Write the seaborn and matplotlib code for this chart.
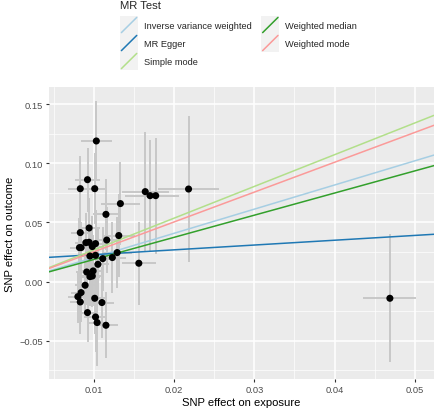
import numpy as np
import pandas as pd
import matplotlib
matplotlib.use("Agg")
import matplotlib.pyplot as plt
import seaborn as sns
from matplotlib.lines import Line2D
from matplotlib.patches import Rectangle
from matplotlib.legend_handler import HandlerBase

# efeitos dos SNPs
beta_exp = [0.0103, 0.0083, 0.0092, 0.0101, 0.0164, 0.0170, 0.0177, 0.0218, 0.0133, 0.0115,
            0.0094, 0.0083, 0.0131, 0.0116, 0.0090, 0.0094, 0.0102, 0.0098, 0.0082, 0.0084,
            0.0129, 0.0095, 0.0102, 0.0123, 0.0111, 0.0105, 0.0156, 0.0091, 0.0099, 0.0095,
            0.0098, 0.0089, 0.0084, 0.0080, 0.0083, 0.0101, 0.0110, 0.0092, 0.0102, 0.0104,
            0.0115, 0.0469]
beta_out = [0.1188, 0.0785, 0.0861, 0.0785, 0.0760, 0.0726, 0.0726, 0.0782, 0.0659, 0.0568,
            0.0453, 0.0414, 0.0389, 0.0351, 0.0329, 0.0332, 0.0321, 0.0296, 0.0287, 0.0287,
            0.0245, 0.0216, 0.0222, 0.0203, 0.0194, 0.0146, 0.0155, 0.0081, 0.0090, 0.0042,
            0.0047, -0.0031, -0.0093, -0.0127, -0.0172, -0.0141, -0.0177, -0.0262, -0.0299, -0.0346,
            -0.0369, -0.0141]
se_exp = [0.0019, 0.0015, 0.0015, 0.0015, 0.0029, 0.0031, 0.0029, 0.0038, 0.0024, 0.0016,
          0.0013, 0.0012, 0.0020, 0.0014, 0.0013, 0.0012, 0.0014, 0.0013, 0.0012, 0.0012,
          0.0018, 0.0013, 0.0014, 0.0017, 0.0015, 0.0014, 0.0021, 0.0013, 0.0014, 0.0013,
          0.0013, 0.0013, 0.0012, 0.0012, 0.0013, 0.0014, 0.0015, 0.0013, 0.0014, 0.0013,
          0.0015, 0.0033]
se_out = [0.034, 0.028, 0.027, 0.030, 0.050, 0.047, 0.049, 0.062, 0.035, 0.030,
          0.025, 0.030, 0.035, 0.028, 0.025, 0.030, 0.028, 0.026, 0.025, 0.022,
          0.030, 0.025, 0.028, 0.030, 0.027, 0.030, 0.035, 0.028, 0.030, 0.025,
          0.026, 0.024, 0.025, 0.022, 0.027, 0.030, 0.030, 0.025, 0.030, 0.037,
          0.028, 0.054]

# metodos MR
metodos = ["Inverse variance weighted", "MR Egger", "Simple mode", "Weighted median", "Weighted mode"]
inclinacao = [2.04, 0.406, 2.68, 1.87, 2.52]
intercepto = [0.0, 0.0187, 0.0, 0.0, 0.0]
cores = ["#A6CEE3", "#1F78B4", "#B2DF8A", "#33A02C", "#FB9A99"]

df = pd.DataFrame({"exp": beta_exp, "out": beta_out, "se_exp": se_exp, "se_out": se_out})

sns.set_theme(style="darkgrid", rc={"axes.facecolor": "#EBEBEB", "grid.color": "white"})
plt.rcParams['font.family'] = ['Liberation Sans', 'DejaVu Sans']

fig = plt.figure(figsize=(4.4, 4.1), dpi=100)
ax = fig.add_axes([49/440, 1 - 380/410, 385/440, 292/410])

# barras de erro
ax.errorbar(df["exp"], df["out"], xerr=df["se_exp"], yerr=df["se_out"], fmt="none",
            ecolor="#C8C8C8", elinewidth=1.4, capsize=0, zorder=2)

# linhas dos metodos
for m, b, a, c in zip(metodos, inclinacao, intercepto, cores):
    ax.axline((0, a), slope=b, color=c, lw=1.1, zorder=3)

sns.scatterplot(data=df, x="exp", y="out", color="black", s=26, edgecolor="none", zorder=4, ax=ax)

ax.set_xlim(0.0044, 0.0524)
ax.set_ylim(-0.0823, 0.1644)
ax.set_xticks([0.01, 0.02, 0.03, 0.04, 0.05])
ax.set_xticklabels(["0.01", "0.02", "0.03", "0.04", "0.05"])
ax.set_yticks([-0.05, 0, 0.05, 0.10, 0.15])
ax.set_yticklabels(["\u22120.05", "0.00", "0.05", "0.10", "0.15"])
ax.set_xticks([0.005, 0.015, 0.025, 0.035, 0.045], minor=True)
ax.set_yticks([-0.075, -0.025, 0.025, 0.075, 0.125], minor=True)
ax.grid(which="major", color="white", lw=1.1)
ax.grid(which="minor", color="white", lw=0.5)
ax.tick_params(which="major", length=2.5, width=0.8, color="#333333", labelsize=6.7,
               labelcolor="#4D4D4D", bottom=True, left=True, pad=2)
ax.tick_params(which="minor", length=0)
for s in ax.spines.values():
    s.set_visible(False)
ax.set_xlabel("SNP effect on exposure", fontsize=8.1, color="black", labelpad=2)
ax.set_ylabel("SNP effect on outcome", fontsize=8.1, color="black", labelpad=3)


class ChaveDiagonal(HandlerBase):
    def create_artists(self, legend, orig_handle, xdescent, ydescent, width, height, fontsize, trans):
        fundo = Rectangle((-xdescent, -ydescent), width, height, facecolor="#F2F2F2",
                          edgecolor="none", transform=trans)
        linha = Line2D([-xdescent + 1, -xdescent + width - 1], [-ydescent + 1, -ydescent + height - 1],
                       color=orig_handle.get_color(), lw=1.1, transform=trans)
        return [fundo, linha]


# titulo da legenda separado, para controlar o espaco
fig.text(120/440, 1 - 6/410, "MR Test", fontsize=8.1, va="center", ha="left")
handles = [Line2D([], [], color=c) for c in cores]
leg = fig.legend(handles, metodos, handler_map={Line2D: ChaveDiagonal()}, ncol=2,
                 loc="upper left", bbox_to_anchor=(120/440, 1 - 17/410), frameon=False,
                 fontsize=6.7, handlelength=1.95, handleheight=2.6, labelspacing=0.0,
                 handletextpad=0.65, columnspacing=1.0, borderpad=0.0, borderaxespad=0.0)

fig.savefig("out.png", dpi=100)
